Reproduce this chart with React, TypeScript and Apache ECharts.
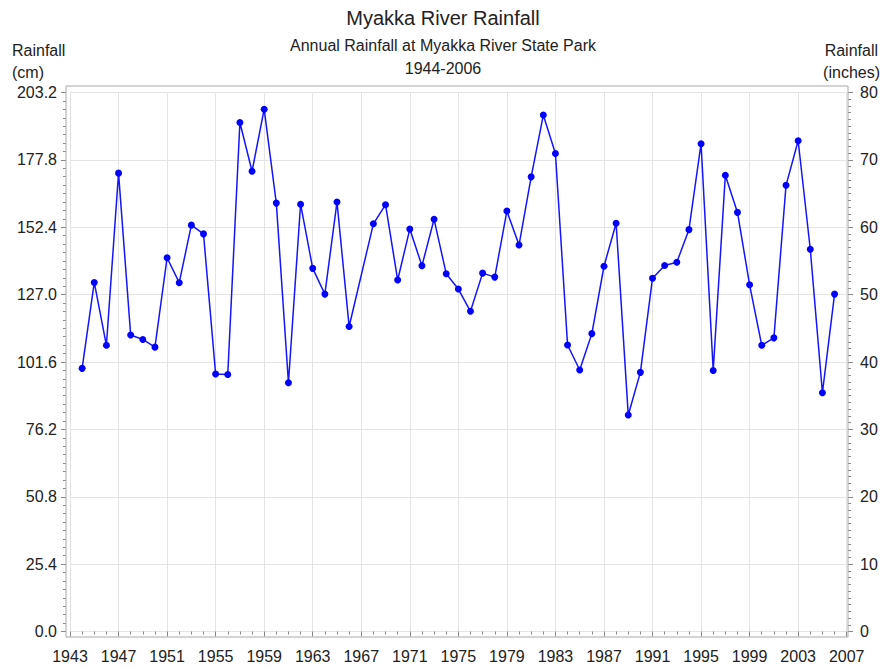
import React, { useEffect, useRef } from "react";
import * as echarts from "echarts";

const years = [
  1944, 1945, 1946, 1947, 1948, 1949, 1950, 1951, 1952, 1953, 1954, 1955, 1956, 1957, 1958, 1959,
  1960, 1961, 1962, 1963, 1964, 1965, 1966, 1968, 1969, 1970, 1971, 1972, 1973, 1974, 1975, 1976,
  1977, 1978, 1979, 1980, 1981, 1982, 1983, 1984, 1985, 1986, 1987, 1988, 1989, 1990, 1991, 1992,
  1993, 1994, 1995, 1996, 1997, 1998, 1999, 2000, 2001, 2002, 2003, 2004, 2005, 2006,
];

const rainfallCm = [
  99.2, 131.6, 107.9, 172.8, 111.8, 110.1, 107.2, 140.9, 131.5, 153.2, 149.9, 97.1, 96.9, 191.9, 173.5, 196.9,
  161.5, 93.8, 161.1, 136.9, 127.2, 161.9, 115.0, 153.7, 160.9, 132.5, 151.7, 137.9, 155.4, 134.9, 129.1, 120.7,
  135.1, 133.6, 158.5, 145.7, 171.4, 194.7, 180.2, 108.0, 98.6, 112.3, 137.7, 153.9, 81.6, 97.7, 133.2, 138.0,
  139.2, 151.5, 183.9, 98.4, 172.0, 158.0, 130.7, 107.9, 110.7, 168.2, 185.0, 144.1, 90.0, 127.2,
];

const titleText = "Myakka River Rainfall";
const subtitleLines = ["Annual Rainfall at Myakka River State Park", "1944-2006"];
const leftAxisName = ["Rainfall", "(cm)"];
const rightAxisName = ["Rainfall", "(inches)"];

const FONT = "'Liberation Sans', Arial, Helvetica, sans-serif";
const TEXT = "#222";

export default function App() {
  const ref = useRef<HTMLDivElement>(null);

  useEffect(() => {
    if (!ref.current) return;
    const chart = echarts.init(ref.current, null, { renderer: "svg" });
    const data = years.map((y, i) => [y, rainfallCm[i]]);

    chart.setOption({
      animation: false,
      backgroundColor: "#fff",
      textStyle: { fontFamily: FONT },
      grid: { left: 70, right: 36.3, top: 92.5, bottom: 37.5, containLabel: false },
      graphic: [
        {
          type: "rect",
          shape: { x: 66, y: 86, width: 782, height: 551 },
          style: { fill: "none", stroke: "#a8a8a8", lineWidth: 1 },
          z: 1,
          silent: true,
        },
        {
          type: "text",
          x: 443,
          y: 18,
          style: { text: titleText, font: `20px ${FONT}`, fill: TEXT, textAlign: "center", textVerticalAlign: "middle" },
        },
        {
          type: "text",
          x: 443,
          y: 45,
          style: { text: subtitleLines[0], font: `16px ${FONT}`, fill: TEXT, textAlign: "center", textVerticalAlign: "middle" },
        },
        {
          type: "text",
          x: 443,
          y: 68,
          style: { text: subtitleLines[1], font: `16px ${FONT}`, fill: TEXT, textAlign: "center", textVerticalAlign: "middle" },
        },
        {
          type: "text",
          x: 12,
          y: 50,
          style: { text: leftAxisName[0], font: `16px ${FONT}`, fill: TEXT, textAlign: "left", textVerticalAlign: "middle" },
        },
        {
          type: "text",
          x: 12,
          y: 72,
          style: { text: leftAxisName[1], font: `16px ${FONT}`, fill: TEXT, textAlign: "left", textVerticalAlign: "middle" },
        },
        {
          type: "text",
          x: 878,
          y: 50,
          style: { text: rightAxisName[0], font: `16px ${FONT}`, fill: TEXT, textAlign: "right", textVerticalAlign: "middle" },
        },
        {
          type: "text",
          x: 880,
          y: 72,
          style: { text: rightAxisName[1], font: `16px ${FONT}`, fill: TEXT, textAlign: "right", textVerticalAlign: "middle" },
        },
      ],
      xAxis: {
        type: "value",
        min: 1943,
        max: 2007,
        interval: 4,
        offset: 6,
        axisLine: { show: false },
        axisTick: { show: true, length: 5, lineStyle: { color: "#888" } },
        minorTick: { show: true, splitNumber: 4, length: 3, lineStyle: { color: "#888" } },
        axisLabel: { color: TEXT, fontSize: 16, fontFamily: FONT, margin: 11, formatter: (v: number) => String(v) },
        splitLine: { show: true, lineStyle: { color: "#e4e4e4", width: 1 } },
      },
      yAxis: [
        {
          type: "value",
          position: "left",
          min: 0,
          max: 203.2,
          interval: 25.4,
          offset: 4,
          axisLine: { show: false },
          axisTick: { show: true, length: 5, lineStyle: { color: "#888" } },
          minorTick: { show: true, splitNumber: 8, length: 3, lineStyle: { color: "#888" } },
          axisLabel: { color: TEXT, fontSize: 16, fontFamily: FONT, margin: 9, formatter: (v: number) => v.toFixed(1) },
          splitLine: { show: true, lineStyle: { color: "#e4e4e4", width: 1 } },
        },
        {
          type: "value",
          position: "right",
          min: 0,
          max: 80,
          interval: 10,
          offset: 1.3,
          axisLine: { show: false },
          axisTick: { show: true, length: 5, lineStyle: { color: "#888" } },
          minorTick: { show: true, splitNumber: 10, length: 3, lineStyle: { color: "#888" } },
          axisLabel: { color: TEXT, fontSize: 16, fontFamily: FONT, margin: 12, formatter: (v: number) => String(v) },
          splitLine: { show: false },
        },
      ],
      series: [
        {
          type: "line",
          yAxisIndex: 0,
          data,
          symbol: "circle",
          symbolSize: 7,
          showSymbol: true,
          lineStyle: { color: "#1414ff", width: 1.5 },
          itemStyle: { color: "#0000ff" },
          z: 3,
        },
        {
          type: "line",
          yAxisIndex: 1,
          data: [],
        },
      ],
    });

    return () => chart.dispose();
  }, []);

  return <div ref={ref} style={{ position: "fixed", left: 0, top: 0, width: 883, height: 669 }} />;
}
